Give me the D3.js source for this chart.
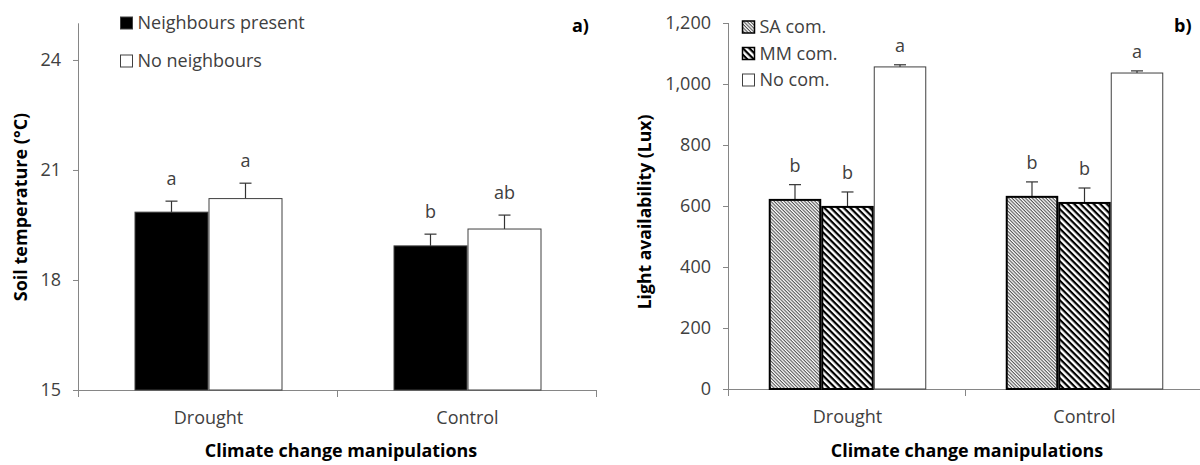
<!DOCTYPE html>
<html>
<head>
<meta charset="utf-8">
<script src="https://cdn.jsdelivr.net/npm/d3@7"></script>
<style>
  html, body { margin: 0; padding: 0; background: #fff; }
  svg { display: block; font-family: "Open Sans", sans-serif; }
  .tick text { font-size: 18px; fill: #404040; }
</style>
</head>
<body>
<svg id="chart" width="1200" height="465"></svg>
<script>
// ---- Panel a) soil temperature ----
const categories = ["Drought", "Control"];
const tempSeries = ["Neighbours present", "No neighbours"];
const tempMean = [[19.85, 20.22], [18.93, 19.39]];
const tempSE = [[0.30, 0.42], [0.32, 0.38]];
const tempLetters = [["a", "a"], ["b", "ab"]];
const tempTicks = [15, 18, 21, 24];

// ---- Panel b) light availability ----
const lightSeries = ["SA com.", "MM com.", "No com."];
const lightMean = [[620, 597, 1056], [630, 610, 1036]];
const lightSE = [[50, 49, 7], [49, 49, 7]];
const lightLetters = [["b", "b", "a"], ["b", "b", "a"]];
const lightTicks = [0, 200, 400, 600, 800, 1000, 1200];

const svg = d3.select("#chart");
const axisGrey = "#868686";
const textGrey = "#404040";

// Hatch fills
const defs = svg.append("defs");
function hatch(id, period, lineW, color) {
  const p = defs.append("pattern")
    .attr("id", id)
    .attr("patternUnits", "userSpaceOnUse")
    .attr("width", period).attr("height", period)
    .attr("patternTransform", "rotate(45)");
  p.append("rect").attr("width", period).attr("height", period).attr("fill", "#fff");
  p.append("rect").attr("width", period).attr("height", lineW).attr("fill", color);
}
hatch("hatchSA", 2.4, 1.1, "#555");
hatch("hatchMM", 4.6, 2.2, "#000");

function panel(cfg) {
  const g = svg.append("g");
  const x0 = d3.scaleBand().domain(categories).range([cfg.left, cfg.right]).padding(0);
  const x1 = d3.scaleBand().domain(cfg.series).range([0, x0.bandwidth()])
    .paddingInner(0).paddingOuter(cfg.outerPad);
  const y = d3.scaleLinear().domain(cfg.domain).range([cfg.bottom, cfg.top]);

  // y axis
  const yAxis = g.append("g").attr("transform", `translate(${cfg.left},0)`)
    .call(d3.axisLeft(y).tickValues(cfg.ticks).tickSize(6).tickPadding(12).tickFormat(cfg.fmt));
  yAxis.select(".domain").attr("stroke", axisGrey).attr("d", `M-0.5,${cfg.bottom + 7}V${cfg.top}`);
  yAxis.selectAll(".tick line").attr("stroke", axisGrey);
  yAxis.selectAll(".tick text").attr("font-family", "Open Sans");

  // x axis: line with tick marks at category boundaries
  const xAxis = g.append("g").attr("transform", `translate(0,${cfg.bottom})`);
  xAxis.append("line").attr("x1", cfg.left).attr("x2", cfg.right)
    .attr("y1", 0.5).attr("y2", 0.5).attr("stroke", axisGrey);
  const bounds = categories.map(c => x0(c)).concat([cfg.right]);
  xAxis.selectAll("line.b").data(bounds.slice(1)).join("line")
    .attr("class", "b")
    .attr("x1", d => d - 0.5).attr("x2", d => d - 0.5)
    .attr("y1", 0).attr("y2", 7).attr("stroke", axisGrey);
  xAxis.selectAll("text").data(categories).join("text")
    .attr("x", d => x0(d) + x0.bandwidth() / 2)
    .attr("y", 34)
    .attr("text-anchor", "middle")
    .attr("font-size", 18).attr("fill", textGrey)
    .text(d => d);

  // bars, error bars, letters
  categories.forEach((c, ci) => {
    cfg.series.forEach((s, si) => {
      const v = cfg.mean[ci][si], se = cfg.se[ci][si];
      const bx = x0(c) + x1(s), bw = x1.bandwidth();
      const st = cfg.barStyle[si];
      const top = y(v), errTop = y(v + se), cx = bx + bw / 2;
      g.append("line").attr("x1", cx).attr("x2", cx).attr("y1", top).attr("y2", errTop)
        .attr("stroke", "#333").attr("stroke-width", 1.2);
      g.append("line").attr("x1", cx - 6).attr("x2", cx + 6).attr("y1", errTop).attr("y2", errTop)
        .attr("stroke", "#333").attr("stroke-width", 1.2);
      g.append("rect")
        .attr("x", bx + st.sw / 2).attr("y", top)
        .attr("width", bw - st.sw).attr("height", cfg.bottom - top)
        .attr("fill", st.fill).attr("stroke", st.stroke).attr("stroke-width", st.sw);
      g.append("text").attr("x", cx).attr("y", errTop - cfg.letterGap)
        .attr("text-anchor", "middle").attr("font-size", 18).attr("fill", textGrey)
        .text(cfg.letters[ci][si]);
    });
  });

  // axis titles
  g.append("text")
    .attr("transform", `translate(${cfg.yTitleX},${cfg.yTitleY}) rotate(-90)`)
    .attr("text-anchor", "middle").attr("font-size", cfg.yTitleSize).attr("font-weight", "bold")
    .attr("fill", "#000").text(cfg.yTitle);
  g.append("text")
    .attr("x", (cfg.left + cfg.right) / 2 + cfg.xTitleShift).attr("y", 457)
    .attr("text-anchor", "middle").attr("font-size", 17.9).attr("font-weight", "bold")
    .attr("fill", "#000").text("Climate change manipulations");

  // panel tag
  g.append("text").attr("x", cfg.tagX).attr("y", 32)
    .attr("font-size", 18).attr("font-weight", "bold").attr("fill", "#000").text(cfg.tag);

  // legend
  const leg = g.append("g");
  cfg.series.forEach((s, si) => {
    const st = cfg.barStyle[si];
    const ly = cfg.legY + si * cfg.legStep;
    leg.append("rect").attr("x", cfg.legX).attr("y", ly - 12)
      .attr("width", 12).attr("height", 12)
      .attr("fill", st.fill).attr("stroke", st.legStroke).attr("stroke-width", st.legSw);
    leg.append("text").attr("x", cfg.legX + 17).attr("y", ly)
      .attr("font-size", 18).attr("fill", textGrey).text(s);
  });
}

panel({
  left: 79, right: 597, top: 23.3, bottom: 390,
  domain: [15, 25], ticks: tempTicks, fmt: d3.format("d"),
  series: tempSeries, mean: tempMean, se: tempSE, letters: tempLetters,
  outerPad: 0.75, letterGap: 16,
  barStyle: [
    { fill: "#000", stroke: "#404040", sw: 1, legStroke: "#404040", legSw: 1 },
    { fill: "#fff", stroke: "#404040", sw: 1, legStroke: "#404040", legSw: 1 }
  ],
  yTitle: "Soil temperature (°C)", yTitleSize: 18, yTitleX: 27, yTitleY: 207, xTitleShift: 3,
  tag: "a)", tagX: 572,
  legX: 120.5, legY: 29, legStep: 38
});

panel({
  left: 729, right: 1203, top: 23, bottom: 389,
  domain: [0, 1200], ticks: lightTicks, fmt: d3.format(","),
  series: lightSeries, mean: lightMean, se: lightSE, letters: lightLetters,
  outerPad: 0.757, letterGap: 13,
  barStyle: [
    { fill: "url(#hatchSA)", stroke: "#000", sw: 2, legStroke: "#000", legSw: 1.5 },
    { fill: "url(#hatchMM)", stroke: "#000", sw: 2, legStroke: "#000", legSw: 1.5 },
    { fill: "#fff", stroke: "#404040", sw: 1, legStroke: "#404040", legSw: 1 }
  ],
  yTitle: "Light availability (Lux)", yTitleSize: 17.6, yTitleX: 651, yTitleY: 212, xTitleShift: 1,
  tag: "b)", tagX: 1174,
  legX: 742.5, legY: 33, legStep: 26.5
});
</script>
</body>
</html>
